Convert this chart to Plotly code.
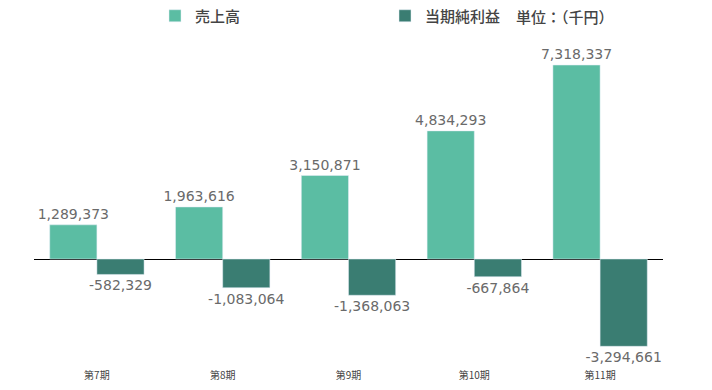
import plotly.graph_objects as go

periods = ["第7期", "第8期", "第9期", "第10期", "第11期"]
sales = [1289373, 1963616, 3150871, 4834293, 7318337]
net_income = [-582329, -1083064, -1368063, -667864, -3294661]

sales_color = "#5BBDA3"
income_color = "#3A7D72"
label_font = dict(size=14, color="#6a6a6a", family="DejaVu Sans, sans-serif")

W, H = 712, 390
ML, MR, MT, MB = 34, 49, 40, 26
PW, PH = W - ML - MR, H - MT - MB

fig = go.Figure()
fig.add_trace(go.Bar(
    x=periods, y=sales, name="売上高", marker_color=sales_color,
    text=[f"{v:,}" for v in sales], textposition="outside",
    textfont=label_font, constraintext="none", cliponaxis=False,
))
fig.add_trace(go.Bar(
    x=periods, y=net_income, name="当期純利益", marker_color=income_color,
    text=[f"{v:,}" for v in net_income], textposition="outside",
    textfont=label_font, constraintext="none", cliponaxis=False,
))

fig.update_layout(
    width=W, height=H,
    margin=dict(l=ML, r=MR, t=MT, b=MB, autoexpand=False),
    paper_bgcolor="white", plot_bgcolor="white",
    barmode="group", bargap=0.25, bargroupgap=0,
    font=dict(family="Noto Sans CJK JP, sans-serif", color="#333333"),
    showlegend=True,
    legend=dict(
        orientation="h", xref="container", yref="container",
        x=155 / W, xanchor="left", y=1 - 16 / H, yanchor="middle",
        entrywidth=185, entrywidthmode="pixels",
        font=dict(size=15, color="#444444", weight=500),
        traceorder="normal",
    ),
    annotations=[dict(
        text="単位：（千円）", x=(514 - ML) / PW,
        y=1 + (MT - 16) / PH, xref="paper", yref="paper",
        showarrow=False, font=dict(size=15, color="#444444", weight=500),
        xanchor="left", yanchor="middle",
    )],
    xaxis=dict(showgrid=False, showline=False, ticks="",
               tickfont=dict(size=10, color="#444444"), ticklabelstandoff=4),
    yaxis=dict(range=[-3962000, 8264000], showgrid=False, showticklabels=False,
               zeroline=True, zerolinecolor="#000000", zerolinewidth=1,
               showline=False),
)

fig.write_html("out.html", config={"displayModeBar": False},
               post_script="document.body.style.margin='0';")
